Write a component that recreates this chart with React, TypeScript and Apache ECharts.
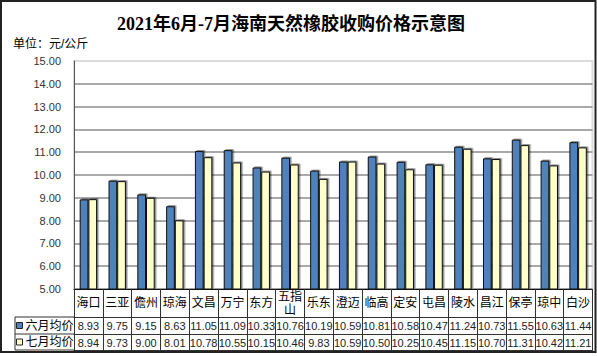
import React, { useEffect, useRef } from "react";
import * as echarts from "echarts";

const categories = ["海口", "三亚", "儋州", "琼海", "文昌", "万宁", "东方", "五指山", "乐东", "澄迈", "临高", "定安", "屯昌", "陵水", "昌江", "保亭", "琼中", "白沙"];
const juneAvg = [8.93, 9.75, 9.15, 8.63, 11.05, 11.09, 10.33, 10.76, 10.19, 10.59, 10.81, 10.58, 10.47, 11.24, 10.73, 11.55, 10.63, 11.44];
const julyAvg = [8.94, 9.73, 9.0, 8.01, 10.78, 10.55, 10.15, 10.46, 9.83, 10.59, 10.5, 10.25, 10.45, 11.15, 10.7, 11.31, 10.42, 11.21];
const seriesNames = ["六月均价", "七月均价"];
const titleText = "2021年6月-7月海南天然橡胶收购价格示意图";
const unitText = "单位：元/公斤";

const FONT = "Arial, 'Liberation Sans', 'Noto Sans CJK SC', sans-serif";
const LINE = "#333";

export default function App() {
  const ref = useRef<HTMLDivElement>(null);
  useEffect(() => {
    if (!ref.current) return;
    const chart = echarts.init(ref.current, null, { renderer: "svg" });
    const gridLeft = 74;
    const gridRight = 592.5;
    const gridTop = 61;
    const gridBottom = 289;
    const rowY = [317, 334, 350];

    const barStyle = (color: string) => ({
      color,
      borderColor: "#111",
      borderWidth: 1,
      shadowColor: "rgba(0,0,0,0.45)",
      shadowBlur: 1.5,
      shadowOffsetX: 1.5,
      shadowOffsetY: -1,
    });

    const splitColors = Array.from({ length: 11 }, (_, i) => (i === 10 ? "#dcdcdc" : "#8c8c8c"));

    const valueAxis = (data: number[], offset: number) => ({
      type: "category",
      gridIndex: 0,
      position: "bottom",
      offset,
      data: data.map((v) => v.toFixed(2)),
      axisLine: { show: true, lineStyle: { color: LINE, width: 1 } },
      axisTick: { show: false },
      axisLabel: {
        interval: 0,
        margin: 8.5,
        verticalAlign: "middle",
        fontSize: 11,
        color: "#222",
        fontFamily: FONT,
      },
    });

    chart.setOption({
      animation: false,
      title: [
        {
          text: titleText,
          left: 112,
          top: 10,
          textStyle: {
            fontFamily: "'Liberation Serif', 'Noto Sans CJK SC', serif",
            fontWeight: "bold",
            fontSize: 18,
            color: "#000",
          },
        },
        {
          text: unitText,
          left: 8,
          top: 33,
          textStyle: { fontFamily: FONT, fontWeight: "normal", fontSize: 12, color: "#000" },
        },
      ],
      legend: {
        orient: "vertical",
        left: 16,
        top: 319.5,
        padding: 0,
        itemGap: 4.5,
        itemWidth: 6,
        itemHeight: 6,
        icon: "rect",
        data: seriesNames,
        itemStyle: { shadowBlur: 0, shadowOffsetX: 0, shadowOffsetY: 0, shadowColor: "transparent", borderColor: "#222", borderWidth: 1 },
        textStyle: { fontSize: 12, lineHeight: 12, color: "#000", fontFamily: FONT, padding: [0, 0, 0, -2] },
      },
      grid: {
        left: gridLeft,
        top: gridTop,
        width: gridRight - gridLeft,
        height: gridBottom - gridTop,
        show: true,
        borderColor: "#dcdcdc",
        borderWidth: 2,
        backgroundColor: "#fff",
      },
      xAxis: [
        {
          type: "category",
          data: categories,
          position: "bottom",
          axisLine: { show: true, lineStyle: { color: "#111", width: 1 } },
          axisTick: { show: true, alignWithLabel: false, inside: false, length: 61, lineStyle: { color: LINE, width: 1 } },
          axisLabel: {
            interval: 0,
            margin: 14,
            verticalAlign: "middle",
            fontSize: 12,
            lineHeight: 13,
            color: "#000",
            fontFamily: FONT,
            formatter: (v: string) => (v.length > 2 ? v.slice(0, 2) + "\n" + v.slice(2) : v),
          },
        },
        valueAxis(juneAvg, rowY[0] - gridBottom),
        valueAxis(julyAvg, rowY[1] - gridBottom),
        {
          type: "category",
          gridIndex: 0,
          position: "bottom",
          offset: rowY[2] - gridBottom,
          data: categories,
          axisLine: { show: true, lineStyle: { color: LINE, width: 1 } },
          axisTick: { show: false },
          axisLabel: { show: false },
        },
      ],
      yAxis: {
        type: "value",
        min: 5,
        max: 15,
        interval: 1,
        axisLine: { show: true, lineStyle: { color: "#555", width: 1 } },
        axisTick: { show: false },
        splitLine: { show: true, lineStyle: { color: splitColors, width: 1.5 } },
        axisLabel: {
          margin: 13,
          fontSize: 11,
          color: "#333",
          fontFamily: FONT,
          formatter: (v: number) => v.toFixed(2),
        },
      },
      series: [
        {
          name: seriesNames[0],
          type: "bar",
          data: juneAvg,
          barWidth: 8.7,
          barGap: "0%",
          itemStyle: barStyle("#4F81BD"),
        },
        {
          name: seriesNames[1],
          type: "bar",
          data: julyAvg,
          barWidth: 8.7,
          barGap: "0%",
          itemStyle: barStyle("#FFFFCC"),
        },
      ],
      graphic: [
        {
          type: "rect",
          shape: { x: 1, y: 1, width: 594.5, height: 351 },
          style: { fill: "none", stroke: "#222", lineWidth: 2 },
          silent: true,
          z: 100,
        },
        ...rowY.map((y) => ({
          type: "line",
          shape: { x1: 15, y1: y, x2: gridLeft, y2: y },
          style: { stroke: LINE, lineWidth: 1 },
          silent: true,
        })),
        {
          type: "line",
          shape: { x1: 15, y1: rowY[0], x2: 15, y2: rowY[2] },
          style: { stroke: LINE, lineWidth: 1 },
          silent: true,
        },
      ],
    });
    return () => chart.dispose();
  }, []);
  return (
    <div
      ref={ref}
      style={{ position: "fixed", left: 0, top: 0, width: 597, height: 356, background: "#fff" }}
    />
  );
}
